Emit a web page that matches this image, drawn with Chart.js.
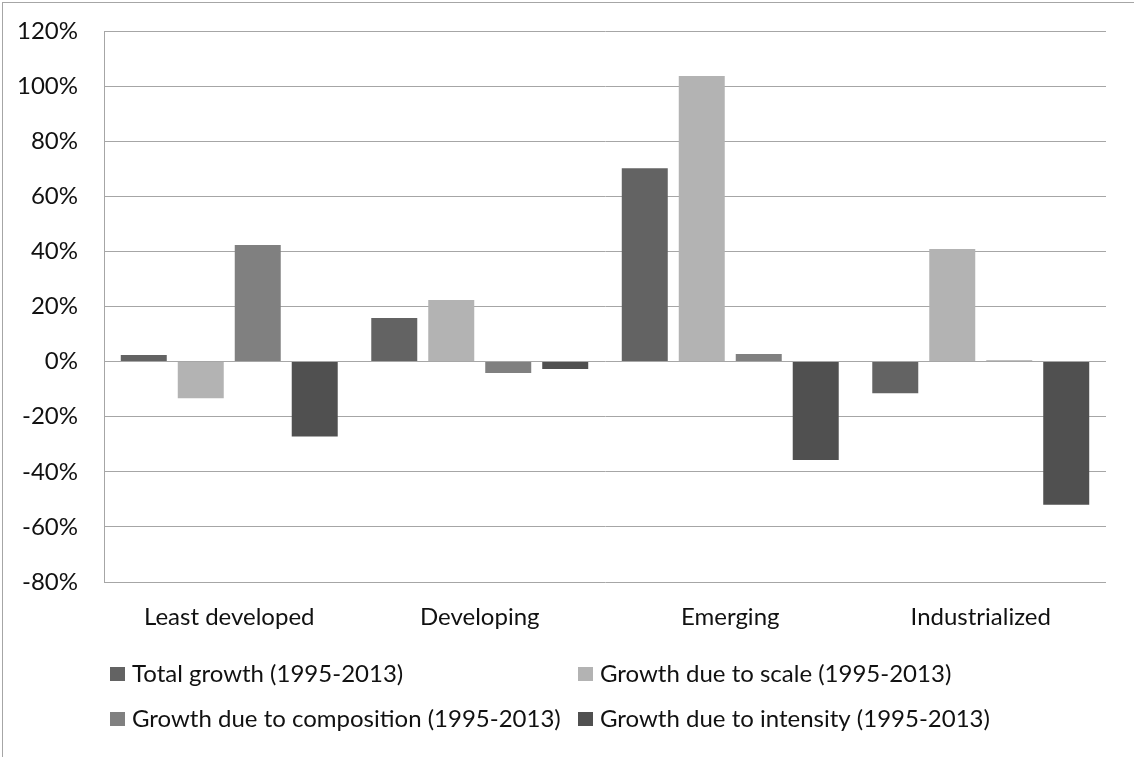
<!DOCTYPE html>
<html>
<head>
<meta charset="utf-8">
<script src="https://cdn.jsdelivr.net/npm/chart.js@4.4.1/dist/chart.umd.min.js"></script>
<style>
  html, body { margin: 0; padding: 0; background: #fff; }
  .frame { position: absolute; left: 2px; top: 2px; width: 1140px; height: 760px;
    border-left: 1px solid #a6a6a6; border-top: 1px solid #a6a6a6; }
  #wrap { position: absolute; left: 0; top: 0; width: 1134px; height: 757px; }
</style>
</head>
<body>
<div class="frame"></div>
<div id="wrap"><canvas id="growthChart"></canvas></div>
<script>
const categories = ['Least developed', 'Developing', 'Emerging', 'Industrialized'];
const seriesNames = [
  'Total growth (1995-2013)',
  'Growth due to scale (1995-2013)',
  'Growth due to composition (1995-2013)',
  'Growth due to intensity (1995-2013)'
];
const totalGrowth = [2.4, 15.8, 70.2, -11.5];
const scaleGrowth = [-13.3, 22.4, 103.7, 40.9];
const compositionGrowth = [42.3, -4.1, 2.8, 0.4];
const intensityGrowth = [-27.2, -2.7, -35.7, -52.0];
const yTicks = { min: -80, max: 120, step: 20 };

const barColors = ['#636363', '#b3b3b3', '#808080', '#505050'];
const FONT = 'Lato, "Open Sans", sans-serif';

// legend in two fixed columns, like the original sheet
const gridLegend = {
  id: 'gridLegend',
  afterDraw(chart) {
    const ctx = chart.ctx;
    const cols = [110, 578];
    const rows = [674, 719];
    ctx.save();
    ctx.font = '24px ' + FONT;
    ctx.textBaseline = 'middle';
    chart.data.datasets.forEach((ds, i) => {
      const x = cols[i % 2], y = rows[Math.floor(i / 2)];
      ctx.fillStyle = ds.backgroundColor;
      ctx.fillRect(x, y - 7, 15, 14);
      ctx.fillStyle = '#111';
      ctx.fillText(ds.label, x + 22, y);
    });
    ctx.restore();
  }
};

const seriesData = [totalGrowth, scaleGrowth, compositionGrowth, intensityGrowth];

new Chart(document.getElementById('growthChart'), {
  type: 'bar',
  data: {
    labels: categories,
    datasets: seriesNames.map((name, i) => ({
      label: name,
      data: seriesData[i],
      backgroundColor: barColors[i],
      borderWidth: 0,
      categoryPercentage: 0.91,
      barPercentage: 0.807
    }))
  },
  options: {
    responsive: true,
    maintainAspectRatio: false,
    animation: false,
    layout: { padding: { top: 31, right: 28, bottom: 0, left: 0 } },
    plugins: { legend: { display: false }, tooltip: { enabled: false } },
    scales: {
      x: {
        grid: { display: false, drawTicks: false },
        border: { display: false },
        ticks: { color: '#111', font: { family: FONT, size: 24 }, padding: 21, maxRotation: 0 },
        afterFit(scale) { scale.height = 175; }
      },
      y: {
        min: yTicks.min,
        max: yTicks.max,
        grid: { color: '#a6a6a6', lineWidth: 1, drawTicks: false },
        border: { display: true, color: '#a6a6a6', width: 1 },
        ticks: {
          stepSize: yTicks.step,
          color: '#111',
          font: { family: FONT, size: 24 },
          padding: 26,
          callback: v => v + '%'
        },
        afterFit(scale) {
          scale.width = 104;
          scale.paddingTop = 0;
          scale.paddingBottom = 0;
        }
      }
    }
  },
  plugins: [gridLegend]
});
</script>
</body>
</html>
